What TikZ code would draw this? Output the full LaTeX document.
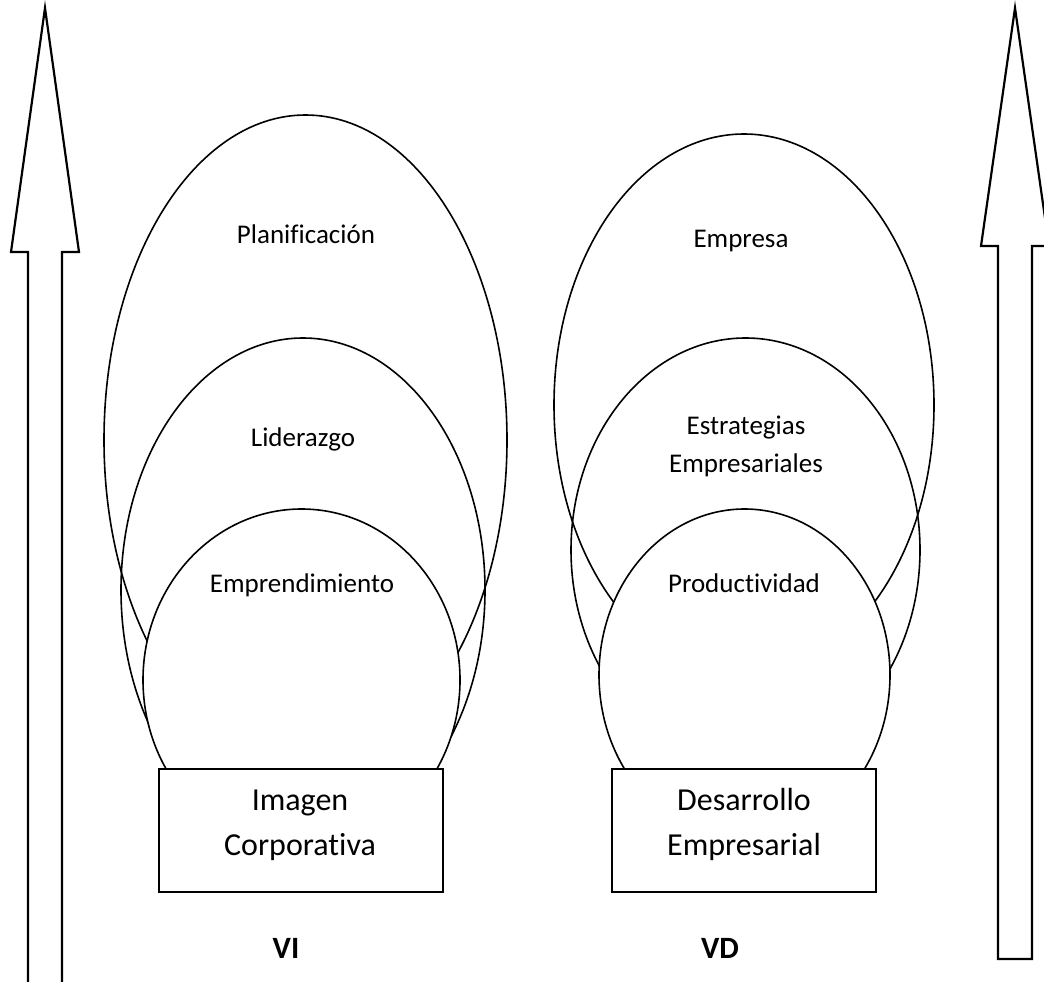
\documentclass[tikz,border=0pt]{standalone}
\usepackage{fontspec}
\setmainfont{Carlito}[RawFeature={-liga;-clig;-dlig}]
\usetikzlibrary{shapes.geometric}
\begin{document}
\begin{tikzpicture}[x=1pt,y=-1pt,
  oval/.style={draw, ellipse, line width=1.6pt, inner sep=0pt, outer sep=0pt},
  ovalfill/.style={oval, fill=white},
  box/.style={draw, rectangle, line width=2pt, fill=white, inner sep=0pt},
  lbl/.style={font=\fontsize{27}{33}\selectfont, anchor=base, inner sep=0pt},
  boxlbl/.style={font=\fontsize{32}{40}\selectfont, anchor=base, inner sep=0pt},
  varlbl/.style={font=\fontsize{31}{38}\selectfont\bfseries, anchor=base, inner sep=0pt},
  bigarrow/.style={draw, line width=2.2pt, line join=miter, fill=white}]
\useasboundingbox (0,0) rectangle (1044,982);
\clip (0,0) rectangle (1044,982);
\fill[white] (0,0) rectangle (1044,982);

% left group
\node[oval, minimum width=403pt, minimum height=650pt] (lbig) at (305.5,440) {};
\node[oval, minimum width=364pt, minimum height=504pt] (lmed) at (303,590) {};
\node[ovalfill, minimum width=317pt, minimum height=342pt] (lsmall) at (301.5,680) {};
\node[box, minimum width=284pt, minimum height=123pt] (lbox) at (301,830.5) {};

% right group
\node[oval, minimum width=380pt, minimum height=542pt] (rbig) at (744,405) {};
\node[oval, minimum width=349pt, minimum height=424pt] (rmed) at (745.5,550) {};
\node[ovalfill, minimum width=291pt, minimum height=332pt] (rsmall) at (744.5,675) {};
\node[box, minimum width=264pt, minimum height=123pt] (rbox) at (744,830.5) {};

% labels
\node[lbl] (t1) at (306,243) {Planificación};
\node[lbl] (t2) at (303,446) {Liderazgo};
\node[lbl] (t3) at (302,592) {Emprendimiento};
\node[lbl] (t4) at (741,247) {Empresa};
\node[lbl] (t5) at (746,434) {Estrategias};
\node[lbl] (t6) at (746,472) {Empresariales};
\node[lbl] (t7) at (744,592) {Productividad};
\node[boxlbl] (b1) at (300,810) {Imagen};
\node[boxlbl] (b2) at (300,855) {Corporativa};
\node[boxlbl] (b3) at (744,810) {Desarrollo};
\node[boxlbl] (b4) at (744,855) {Empresarial};
\node[varlbl] (v1) at (286,958) {VI};
\node[varlbl] (v2) at (720,958) {VD};

% big arrows
\path[bigarrow] (28,990) -- (28,252) -- (11,252) -- (45,8) -- (79,252) -- (62,252) -- (62,990);
\path[bigarrow] (998,959) -- (998,246) -- (981,246) -- (1015,8) -- (1049,246) -- (1032,246) -- (1032,959) -- cycle;
\end{tikzpicture}
\end{document}
